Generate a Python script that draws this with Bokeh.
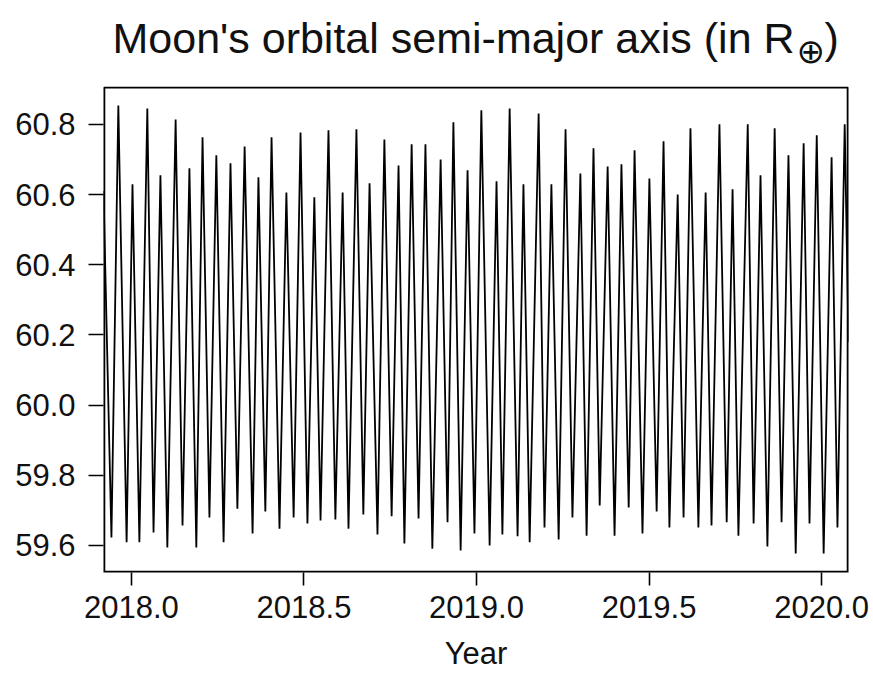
from bokeh.plotting import figure
from bokeh.models import Label, FixedTicker, NumeralTickFormatter, Range1d, ColumnDataSource
from bokeh.embed import file_html
from bokeh.resources import INLINE

# ---- data ----
start_year = [2017.919]
start_value = [60.61]
end_year = [2020.078]
end_value = [60.18]

peak_year = [2017.962, 2018.003, 2018.046, 2018.084, 2018.128, 2018.168, 2018.206, 2018.246,
             2018.287, 2018.328, 2018.368, 2018.406, 2018.449, 2018.490, 2018.530, 2018.571,
             2018.612, 2018.652, 2018.690, 2018.733, 2018.774, 2018.812, 2018.852, 2018.896,
             2018.933, 2018.974, 2019.014, 2019.058, 2019.096, 2019.136, 2019.180, 2019.217,
             2019.258, 2019.301, 2019.339, 2019.380, 2019.420, 2019.458, 2019.501, 2019.542,
             2019.583, 2019.620, 2019.664, 2019.704, 2019.742, 2019.786, 2019.823, 2019.864,
             2019.904, 2019.948, 2019.986, 2020.029, 2020.067]
peak_value = [60.854, 60.629, 60.845, 60.655, 60.814, 60.675, 60.763, 60.712, 60.689, 60.737,
              60.649, 60.763, 60.606, 60.777, 60.592, 60.783, 60.606, 60.786, 60.632, 60.757,
              60.683, 60.743, 60.743, 60.700, 60.806, 60.669, 60.840, 60.638, 60.845, 60.629,
              60.831, 60.629, 60.786, 60.660, 60.732, 60.680, 60.686, 60.726, 60.646, 60.752,
              60.600, 60.789, 60.606, 60.800, 60.615, 60.800, 60.655, 60.789, 60.712, 60.746,
              60.769, 60.706, 60.800]

trough_year = [2017.942, 2017.986, 2018.023, 2018.064, 2018.104, 2018.148, 2018.188, 2018.226,
               2018.267, 2018.307, 2018.351, 2018.388, 2018.429, 2018.470, 2018.510, 2018.548,
               2018.591, 2018.629, 2018.672, 2018.713, 2018.754, 2018.791, 2018.832, 2018.872,
               2018.916, 2018.954, 2018.994, 2019.038, 2019.075, 2019.119, 2019.154, 2019.197,
               2019.238, 2019.278, 2019.319, 2019.357, 2019.400, 2019.441, 2019.481, 2019.522,
               2019.559, 2019.600, 2019.643, 2019.681, 2019.725, 2019.759, 2019.803, 2019.843,
               2019.884, 2019.925, 2019.965, 2020.006, 2020.046]
trough_value = [59.623, 59.609, 59.609, 59.637, 59.594, 59.657, 59.594, 59.680, 59.609, 59.705,
                59.634, 59.697, 59.648, 59.680, 59.663, 59.671, 59.674, 59.648, 59.688, 59.631,
                59.683, 59.606, 59.677, 59.591, 59.666, 59.586, 59.634, 59.600, 59.631, 59.626,
                59.609, 59.651, 59.617, 59.680, 59.628, 59.714, 59.628, 59.708, 59.634, 59.697,
                59.651, 59.680, 59.651, 59.657, 59.666, 59.628, 59.663, 59.597, 59.666, 59.577,
                59.663, 59.577, 59.651]

x_ticks = [2018.0, 2018.5, 2019.0, 2019.5, 2020.0]
y_ticks = [59.6, 59.8, 60.0, 60.2, 60.4, 60.6, 60.8]

title_main = "Moon's orbital semi-major axis (in R"
title_sub = "\u2295"
title_end = ")"
x_label = "Year"

# ---- build series ----
pts = sorted(zip(start_year + peak_year + trough_year + end_year,
                 start_value + peak_value + trough_value + end_value))
src = ColumnDataSource(dict(x=[p[0] for p in pts], y=[p[1] for p in pts]))

FONT = "Liberation Sans"
X0, X1 = 2017.919, 2020.078
Y0, Y1 = 59.523, 60.905          # extent of the plotting box
Y_TOP = 61.153                   # frame extends above the box to hold the title

p = figure(width=873, height=675, output_backend="svg", toolbar_location=None,
           x_range=Range1d(X0, X1), y_range=Range1d(Y0, Y_TOP),
           min_border_left=103, min_border_right=25, min_border_top=0, min_border_bottom=103)
p.title.visible = False
p.background_fill_color = "white"
p.border_fill_color = "white"
p.outline_line_color = None
p.grid.visible = False

# plotting box: sides sit on the frame edge (half clipped), top is inside
p.line(x=[X0, X0, X1, X1], y=[Y1, Y0, Y0, Y1], line_color="black", line_width=3.6)
p.line(x=[X0, X1], y=[Y1, Y1], line_color="black", line_width=1.8)

p.line("x", "y", source=src, line_color="black", line_width=1.8)

for ax, ticks in ((p.xaxis[0], x_ticks), (p.yaxis[0], y_ticks)):
    ax.ticker = FixedTicker(ticks=ticks)
    ax.formatter = NumeralTickFormatter(format="0.0")
    ax.axis_line_color = None
    ax.major_tick_line_color = "black"
    ax.major_tick_line_width = 1.6
    ax.major_tick_in = 0
    ax.minor_tick_line_color = None
    ax.major_label_text_font = FONT
    ax.major_label_text_font_size = "31px"
    ax.major_label_text_color = "#111111"

p.xaxis.major_tick_out = 13
p.xaxis.major_label_standoff = 10
p.yaxis.major_tick_out = 15
p.yaxis.major_label_standoff = 13

p.xaxis.axis_label = x_label
p.xaxis.axis_label_text_font = FONT
p.xaxis.axis_label_text_font_size = "31px"
p.xaxis.axis_label_text_font_style = "normal"
p.xaxis.axis_label_text_color = "#111111"
p.xaxis.axis_label_standoff = 15

# title pieces placed above the box
p.add_layout(Label(x=X0, y=Y1, x_offset=9, y_offset=50, text=title_main,
                   text_font=FONT, text_font_size="43px", text_color="#111111",
                   text_align="left", text_baseline="alphabetic"))
p.add_layout(Label(x=X0, y=Y1, x_offset=693, y_offset=37, text=title_sub,
                   text_font="DejaVu Sans", text_font_size="34px", text_color="#111111",
                   text_align="left", text_baseline="alphabetic"))
p.add_layout(Label(x=X0, y=Y1, x_offset=721, y_offset=50, text=title_end,
                   text_font=FONT, text_font_size="43px", text_color="#111111",
                   text_align="left", text_baseline="alphabetic"))

open("out.html", "w").write(file_html(p, INLINE))
